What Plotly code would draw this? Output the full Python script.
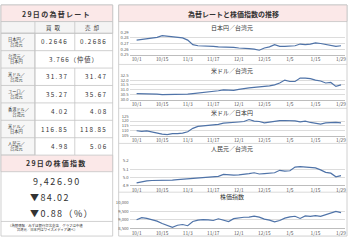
import plotly.graph_objects as go

W, H = 350, 240
FONT = "Noto Sans CJK JP"
TXT = "#333333"
PINK = "#fbe8e8"
BORDER = "#c4c4c4"
LINE = "#4f73a8"

# ---------------- data ----------------
tick_labels = ["10/1", "10/15", "11/3", "11/17", "12/1", "12/15", "1/5", "1/15", "1/29"]
days = list(range(41))  # trading-day categories, a label every 5th

jpy_twd = [0.276, 0.277, 0.278, 0.279, 0.281, 0.284, 0.283, 0.282, 0.282, 0.280,
           0.276, 0.268, 0.266, 0.266, 0.265, 0.265, 0.264, 0.264, 0.263, 0.263,
           0.262, 0.262, 0.261, 0.260, 0.258, 0.262, 0.264, 0.268, 0.265, 0.265,
           0.265, 0.266, 0.269, 0.268, 0.269, 0.271, 0.270, 0.268, 0.266, 0.265, 0.266]
usd_twd = [30.6, 30.6, 30.55, 30.6, 30.55, 30.5, 30.5, 30.5, 30.5, 30.5,
           30.55, 30.6, 30.65, 30.7, 30.75, 30.8, 30.9, 31.0, 31.0, 30.95,
           31.05, 31.15, 31.2, 31.25, 31.3, 31.3, 31.4, 31.5, 31.7, 32.0,
           31.85, 31.85, 32.2, 32.2, 32.15, 32.0, 31.9, 31.7, 31.75, 31.35, 31.5]
usd_jpy = [110.0, 109.3, 109.8, 108.5, 107.5, 106.5, 106.0, 107.0, 107.0, 107.5,
           109.0, 112.5, 114.5, 115.0, 115.5, 115.8, 116.5, 117.8, 118.0, 118.2,
           119.0, 119.5, 121.5, 119.8, 119.5, 118.0, 119.0, 120.0, 120.3, 120.5,
           120.5, 120.2, 119.2, 119.8, 118.5, 117.8, 116.8, 118.0, 118.3, 118.5, 118.0]
cny_twd = [4.93, 4.945, 4.955, 4.96, 4.96, 4.965, 4.965, 4.965, 4.97, 4.975,
           4.98, 4.985, 4.99, 4.995, 5.0, 5.005, 5.01, 5.035, 5.03, 5.025,
           5.03, 5.035, 5.045, 5.055, 5.04, 5.045, 5.05, 5.055, 5.085, 5.075,
           5.08, 5.125, 5.13, 5.125, 5.12, 5.115, 5.09, 5.06, 5.05, 5.005, 5.02]
stock = [9000, 9130, 9080, 9000, 8920, 8780, 8650, 8560, 8680, 8720,
         8650, 8900, 8980, 9010, 8990, 8960, 9060, 8990, 8900, 9070,
         9130, 9150, 9160, 9220, 9160, 9040, 8980, 8880, 8960, 9100,
         9170, 9210, 9080, 9230, 9200, 9250, 9200, 9300, 9400, 9500, 9427]

chart_titles = ["日本円／台湾元", "米ドル／台湾元", "米ドル／日本円", "人民元／台湾元", "株価指数"]
series = [jpy_twd, usd_twd, usd_jpy, cny_twd, stock]
y_ranges = [(0.25, 0.29), (30.0, 32.5), (105, 125), (4.9, 5.2), (8500, 10000)]
y_dticks = [0.01, 0.5, 5, 0.1, 500]
y_formats = [".2f", ".1f", "d", ".1f", ","]

rate_labels = ["日本円／<br>台湾元", "台湾元／<br>日本円", "米ドル／<br>台湾元", "ユーロ／<br>台湾元",
               "香港ドル／<br>台湾元", "米ドル／<br>日本円", "人民元／<br>台湾元"]
rate_buy = ["0.2646", None, "31.37", "35.27", "4.02", "116.85", "4.98"]
rate_sell = ["0.2686", None, "31.47", "35.67", "4.08", "118.85", "5.06"]
rate_mid = [None, "3.766（仲値）", None, None, None, None, None]

stock_close = "9,426.90"
stock_change = "▼84.02"
stock_pct = "▼0.88（%）"

# ---------------- helpers ----------------
def X(px):
    return px / W

def Y(py):
    return 1 - py / H

shapes = []
annotations = []

def rect(x0, y0, x1, y1, fill=None, line=BORDER, lw=0.8):
    shapes.append(dict(type="rect", xref="paper", yref="paper",
                       x0=X(x0), x1=X(x1), y0=Y(y1), y1=Y(y0),
                       fillcolor=fill if fill else "rgba(0,0,0,0)",
                       line=dict(color=line, width=lw), layer="below"))

def hline(x0, x1, y, color=BORDER, lw=0.8):
    shapes.append(dict(type="line", xref="paper", yref="paper",
                       x0=X(x0), x1=X(x1), y0=Y(y), y1=Y(y),
                       line=dict(color=color, width=lw), layer="below"))

def vline(x, y0, y1, color=BORDER, lw=0.8):
    shapes.append(dict(type="line", xref="paper", yref="paper",
                       x0=X(x), x1=X(x), y0=Y(y0), y1=Y(y1),
                       line=dict(color=color, width=lw), layer="below"))

def text(x, y, s, size=7, anchor="center", bold=False, spacing=None, color=TXT):
    if spacing:
        s = f'<span style="letter-spacing:{spacing}px">{s}</span>'
    if bold:
        s = f"<b>{s}</b>"
    annotations.append(dict(xref="paper", yref="paper", x=X(x), y=Y(y), text=s,
                            showarrow=False, xanchor=anchor, yanchor="middle",
                            font=dict(family=FONT, size=size, color=color)))

# ---------------- left panel ----------------
L0, L1 = 1, 113
rect(L0, 1, L1, 238)
rect(L0, 1, L1, 18, fill=PINK)
text((L0 + L1) / 2, 10, "29日の為替レート", size=7, bold=True, spacing=1.3)
rect(L0, 18, L1, 30, fill="#f4f4f4")
text(55, 24.5, "買取", size=5.5, spacing=3)
text(94, 24.5, "売却", size=5.5, spacing=3)
row_top, row_h = 30, (155 - 30) / 7
rect(L0, row_top, 35, 155, fill="#f6f6f6")
vline(35, 18, 155)
for i, lab in enumerate(rate_labels):
    yt = row_top + i * row_h
    yc = yt + row_h / 2
    hline(L0, L1, yt)
    text(6, yc, lab, size=4.2, anchor="left")
    if rate_mid[i]:
        text(74, yc, rate_mid[i], size=6.3, spacing=1)
    else:
        text(70, yc, rate_buy[i], size=6.3, anchor="right", spacing=1.3)
        text(109, yc, rate_sell[i], size=6.3, anchor="right", spacing=1.3)
vline(75, 18, row_top)
for i, v in enumerate(rate_mid):
    if v is None:
        vline(75, row_top + i * row_h, row_top + (i + 1) * row_h)

rect(L0, 155, L1, 172, fill=PINK)
text((L0 + L1) / 2, 163.5, "29日の株価指数", size=7, bold=True, spacing=1.3)
text(57, 182, stock_close, size=9, spacing=1.6)
text(28, 198.5, stock_change, size=9, anchor="left", spacing=1.4)
text(28, 215, stock_pct, size=9, anchor="left", spacing=1.4)
hline(L0, L1, 223)
text(6, 229.5, "（為替情報／みずほ銀行台北支店　グラフは中値<br>　台湾元／日本円はワイズメディア調べ）",
     size=3.4, anchor="left")

# ---------------- right panel ----------------
R0, R1 = 119, 348
rect(R0, 1, R1, 238)
rect(R0, 1, R1, 18, fill=PINK)
text(234, 10, "為替レートと株価指数の推移", size=7, bold=True)

# chart geometry (pixels): (subtitle y, plot top, plot bottom)
geom = [(24, 29, 52), (68, 73, 98), (111, 115, 135), (148, 161, 186), (197, 204, 230)]
separators = [62, 107, 143, 193]
for s in separators:
    hline(R0, R1, s, color="#d0d0d0")

PX0, PX1 = 130, 346          # plot-area horizontal extent
first_px, last_px = 137, 342  # position of first/last category
scale = (last_px - first_px) / (len(days) - 1)
xr = [-(first_px - PX0) / scale, (len(days) - 1) + (PX1 - last_px) / scale]

fig = go.Figure()
layout = {}
for k in range(5):
    n = "" if k == 0 else str(k + 1)
    sy, top, bot = geom[k]
    text(233, sy, chart_titles[k], size=6)
    fig.add_trace(go.Scatter(x=days, y=series[k], mode="lines",
                             line=dict(color=LINE, width=1.2),
                             xaxis="x" + n, yaxis="y" + n, showlegend=False,
                             hoverinfo="skip"))
    layout["xaxis" + n] = dict(domain=[X(PX0), X(PX1)], range=xr, anchor="y" + n,
                               tickmode="array", tickvals=days[::5], ticktext=tick_labels,
                               showgrid=False, zeroline=False, showline=True,
                               linecolor="#bdbdbd", linewidth=0.8, ticks="",
                               tickfont=dict(family=FONT, size=4.8, color="#555555"))
    lo, hi = y_ranges[k]
    layout["yaxis" + n] = dict(domain=[Y(bot), Y(top)], range=[lo, hi], anchor="x" + n,
                               dtick=y_dticks[k], tick0=lo, tickformat=y_formats[k],
                               showgrid=True, gridcolor="#dcdcdc", gridwidth=0.6,
                               zeroline=False, showline=False, ticks="",
                               tickfont=dict(family=FONT, size=4.2, color="#555555"))

fig.update_layout(width=W, height=H, autosize=False,
                  margin=dict(l=0, r=0, t=0, b=0),
                  paper_bgcolor="white", plot_bgcolor="rgba(0,0,0,0)",
                  shapes=shapes, annotations=annotations, **layout)
fig.write_html("out.html")
